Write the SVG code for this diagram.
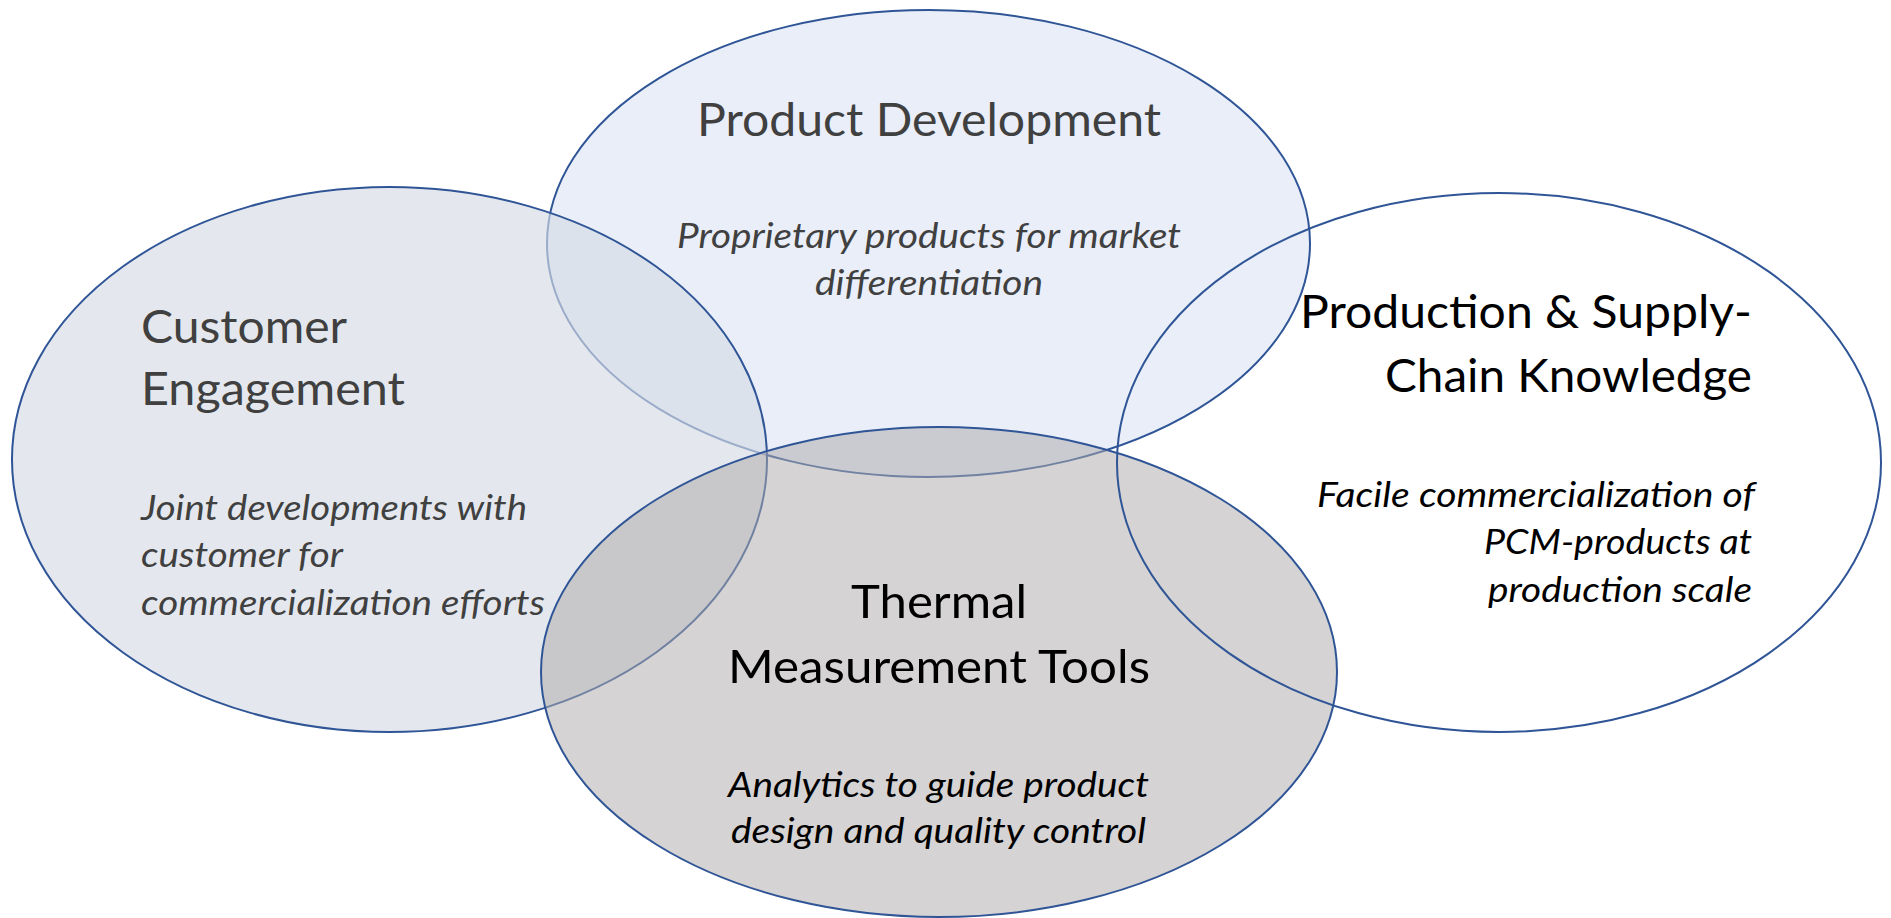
<svg xmlns="http://www.w3.org/2000/svg" width="1891" height="918" viewBox="0 0 1891 918">
  <style>
    .ring { stroke: #2F5597; stroke-width: 2; }
    .title { font-family: Lato, "Liberation Sans", sans-serif; font-size: 47px; }
    .note { font-family: Lato, "Liberation Sans", sans-serif; font-size: 35px; font-style: italic; }
    .grey { fill: #404040; }
    .black { fill: #000000; }
  </style>
  <rect width="1891" height="918" fill="#FFFFFF"/>

  <!-- Product Development (drawn first so later circles tint over it) -->
  <g id="product-development">
    <ellipse class="ring" cx="928.5" cy="243.5" rx="381.5" ry="233.5" fill="#DAE3F3" fill-opacity="0.6"/>
    <text class="title grey" x="697" y="136" textLength="464" lengthAdjust="spacingAndGlyphs">Product Development</text>
    <text class="note grey" x="677" y="248" textLength="504" lengthAdjust="spacingAndGlyphs">Proprietary products for market</text>
    <text class="note grey" x="815" y="295" textLength="228" lengthAdjust="spacingAndGlyphs">differentiation</text>
  </g>

  <!-- Customer Engagement -->
  <g id="customer-engagement">
    <ellipse class="ring" cx="389.5" cy="459.5" rx="377.5" ry="272.5" fill="#D6DCE5" fill-opacity="0.65"/>
    <text class="title grey" x="141" y="343" textLength="206" lengthAdjust="spacingAndGlyphs">Customer</text>
    <text class="title grey" x="141" y="405" textLength="264" lengthAdjust="spacingAndGlyphs">Engagement</text>
    <text class="note grey" x="141" y="520" textLength="386" lengthAdjust="spacingAndGlyphs">Joint developments with</text>
    <text class="note grey" x="141" y="567" textLength="202" lengthAdjust="spacingAndGlyphs">customer for</text>
    <text class="note grey" x="141" y="615" textLength="404" lengthAdjust="spacingAndGlyphs">commercialization efforts</text>
  </g>

  <!-- Thermal Measurement Tools -->
  <g id="thermal-measurement-tools">
    <ellipse class="ring" cx="939" cy="672" rx="398" ry="245" fill="#AFABAB" fill-opacity="0.52"/>
    <text class="title black" x="851" y="618" textLength="176" lengthAdjust="spacingAndGlyphs">Thermal</text>
    <text class="title black" x="728" y="683" textLength="422" lengthAdjust="spacingAndGlyphs">Measurement Tools</text>
    <text class="note black" x="728" y="797" textLength="421" lengthAdjust="spacingAndGlyphs">Analytics to guide product</text>
    <text class="note black" x="731" y="843" textLength="415" lengthAdjust="spacingAndGlyphs">design and quality control</text>
  </g>

  <!-- Production & Supply-Chain Knowledge (outline only) -->
  <g id="production-supply-chain">
    <ellipse class="ring" cx="1499" cy="462.5" rx="382" ry="269.5" fill="none"/>
    <text class="title black" x="1300" y="328" textLength="452" lengthAdjust="spacingAndGlyphs">Production &amp; Supply-</text>
    <text class="title black" x="1385" y="392" textLength="367" lengthAdjust="spacingAndGlyphs">Chain Knowledge</text>
    <text class="note black" x="1317" y="507" textLength="438" lengthAdjust="spacingAndGlyphs">Facile commercialization of</text>
    <text class="note black" x="1484" y="554" textLength="268" lengthAdjust="spacingAndGlyphs">PCM-products at</text>
    <text class="note black" x="1488" y="602" textLength="264" lengthAdjust="spacingAndGlyphs">production scale</text>
  </g>

  <g id="connectors"/>
</svg>
